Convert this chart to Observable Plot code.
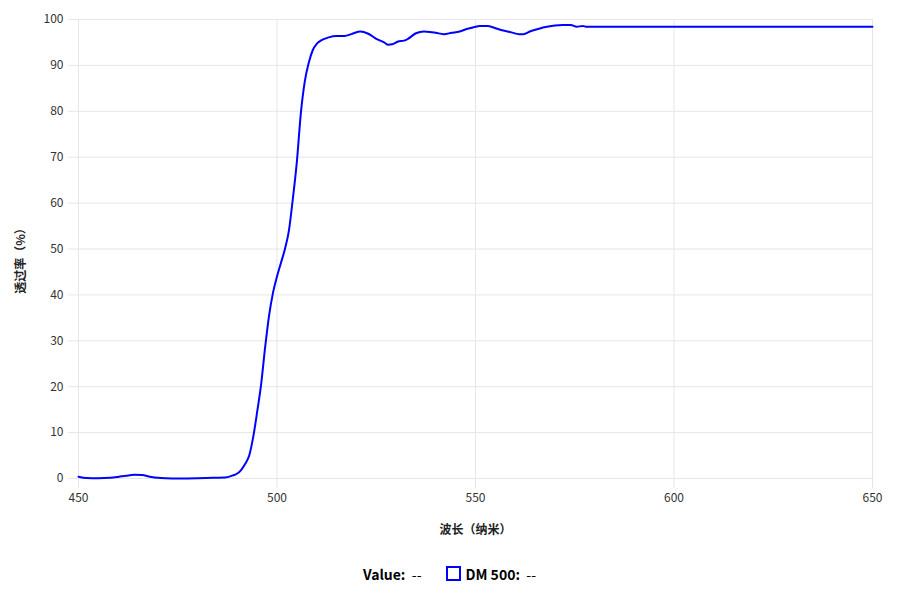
<!DOCTYPE html>
<html>
<head>
<meta charset="utf-8">
<script src="https://cdn.jsdelivr.net/npm/d3@7"></script>
<script src="https://cdn.jsdelivr.net/npm/@observablehq/plot@0.6"></script>
<style>
  html, body { margin: 0; padding: 0; background: #fff; }
  body { width: 911px; height: 597px; overflow: hidden; font-family: "Noto Sans CJK SC", "Noto Sans", sans-serif; }
  #legend { height: 47px; display: flex; justify-content: center; align-items: center; font-weight: bold; font-size: 14px; color: #000; padding-right: 12px; }
  #legend .item { display: flex; align-items: center; }
  #legend .sw { width: 11px; height: 11px; border: 2px solid #0000ff; margin-right: 5px; }
</style>
</head>
<body>
<div id="chart"></div>
<div id="legend"></div>
<script>
const wavelengths = [450,452,455,458,460,462,464,466,468,470,472,475,480,484,487,489,490,491,492,493,494,495,496,497,498,499,500,501,502,503,504,505,506,507,508,509,510,511,513,515,517,519,521,523,525,527,528,529,530.5,532,533,535,537,538.5,540,542,544,546,548,550,551,553,555,557,559,561,562,564,566,568,570,572,574,575.5,577,578,580,600,650];
const transmittance = [0.4,0.1,0.05,0.15,0.35,0.6,0.8,0.75,0.4,0.15,0.05,0,0.05,0.15,0.2,0.7,1.1,1.9,3.2,5,9,14.5,20.5,28.5,35.5,40.5,44,47,50,54,61,69,79.5,86.5,90.6,93.3,94.7,95.4,96.1,96.4,96.4,96.9,97.4,96.9,95.8,95,94.5,94.6,95.2,95.4,95.8,97.0,97.4,97.3,97.1,96.8,97.1,97.4,98.0,98.4,98.6,98.6,98.1,97.6,97.2,96.8,96.8,97.5,98.0,98.4,98.7,98.8,98.8,98.4,98.6,98.4,98.4,98.4,98.4];
const xTicks = [450,500,550,600,650];
const yTicks = [0,10,20,30,40,50,60,70,80,90,100];
const xLabel = "波长（纳米）";
const yLabel = "透过率（%）";
const seriesName = "DM 500";

const data = wavelengths.map((w, i) => ({w, t: transmittance[i]}));
const grid = "#e6e6e6";

const chart = Plot.plot({
  width: 911,
  height: 550,
  marginLeft: 78,
  marginRight: 39,
  marginTop: 19,
  marginBottom: 72,
  style: {fontFamily: '"Noto Sans CJK SC", "Noto Sans", sans-serif', fontSize: "12px", color: "#333", background: "#fff"},
  x: {domain: [450, 650]},
  y: {domain: [0, 100]},
  marks: [
    Plot.ruleY(yTicks, {stroke: grid, strokeWidth: 1, strokeOpacity: 1}),
    Plot.ruleX(xTicks, {stroke: grid, strokeWidth: 1, strokeOpacity: 1}),
    Plot.axisX({ticks: xTicks, tickSize: 10, tickPadding: 5, stroke: grid, strokeOpacity: 1, label: null, fill: "#333", fontSize: 12}),
    Plot.axisY({ticks: yTicks, tickSize: 10, tickPadding: 5, stroke: grid, strokeOpacity: 1, label: null, fill: "#333", fontSize: 12}),
    Plot.line(data, {x: "w", y: "t", stroke: "#0000ff", strokeWidth: 2, curve: "monotone-x"}),
    Plot.text([yLabel], {frameAnchor: "left", textAnchor: "middle", dx: -57, dy: 9, rotate: -90, fontSize: 12, fontWeight: "bold", fill: "#222"}),
    Plot.text([xLabel], {frameAnchor: "bottom", dy: 55, fontSize: 12, fontWeight: "bold", fill: "#222"})
  ]
});
document.getElementById("chart").appendChild(chart);

const legend = document.getElementById("legend");
legend.innerHTML = `<div class="item" style="margin-right:24px">Value:&nbsp;&nbsp;<span style="font-weight:normal">--</span></div><div class="item"><div class="sw"></div>${seriesName}:&nbsp;&nbsp;<span style="font-weight:normal">--</span></div>`;
</script>
</body>
</html>
